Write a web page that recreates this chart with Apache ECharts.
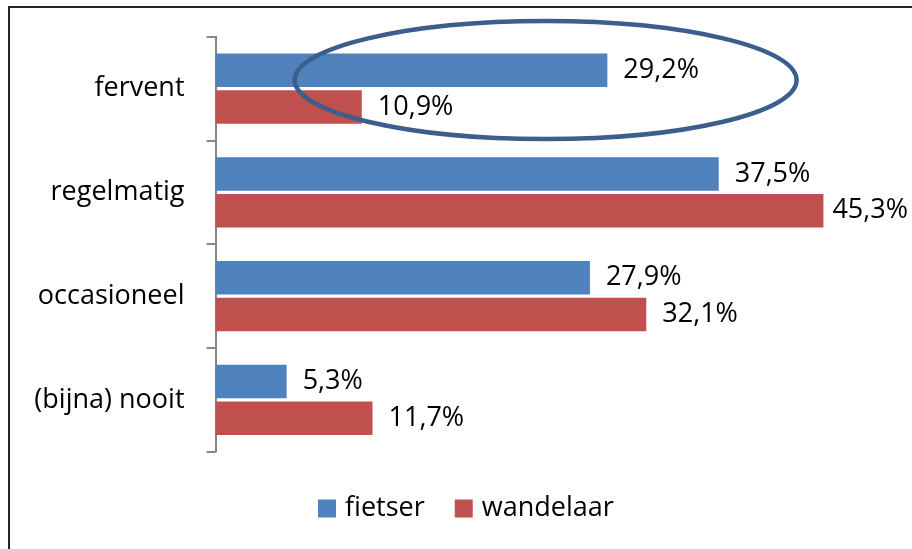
<!DOCTYPE html>
<html>
<head>
<meta charset="utf-8">
<script src="https://cdn.jsdelivr.net/npm/echarts@6/dist/echarts.min.js"></script>
<style>
html,body{margin:0;padding:0;background:#fff;}
#chart{width:912px;height:549px;}
</style>
</head>
<body>
<div id="chart"></div>
<script>
var categories = ['fervent','regelmatig','occasioneel','(bijna) nooit']
var seriesNames = ['fietser','wandelaar']
var fietser = [29.2,37.5,27.9,5.3]
var wandelaar = [10.9,45.3,32.1,11.7]

var chart = echarts.init(document.getElementById('chart'))
var font = '"Open Sans", sans-serif'
var fsize = 27

function pct(p){
    return String(p.value).replace('.',',') + '%'
}

// keep labels inside the frame, like the spreadsheet does
function keepInside(p){
    var r = p.labelRect
    if(r.x + r.width > 908){
        return {
            x:908 - r.width,
            y:r.y + r.height / 2,
            align:'left',
            verticalAlign:'middle'
        }
    }
}

function barSeries(name,data,color){
    return {
        name:name,
        type:'bar',
        data:data,
        barWidth:33.5,
        barGap:'10%',
        itemStyle:{
            color:color
        },
        label:{
            show:true,
            position:'right',
            distance:16,
            formatter:pct,
            fontFamily:font,
            fontSize:fsize,
            color:'#000'
        },
        labelLayout:keepInside
    }
}

chart.setOption({
    animation:false,
    textStyle:{fontFamily:font},
    grid:{
        left:215.5,
        top:36.7,
        width:671,
        height:415
    },
    legend:{
        data:seriesNames,
        left:318,
        top:495,
        padding:0,
        icon:'rect',
        itemWidth:18,
        itemHeight:18,
        itemGap:30,
        textStyle:{
            fontFamily:font,
            fontSize:fsize,
            color:'#000',
            padding:[0,0,0,4]
        }
    },
    xAxis:{
        type:'value',
        min:0,
        max:50,
        show:false
    },
    yAxis:{
        type:'category',
        data:categories,
        inverse:true,
        axisLine:{
            lineStyle:{color:'#868686',width:2}
        },
        axisTick:{
            show:true,
            length:9,
            lineStyle:{color:'#868686',width:2}
        },
        axisLabel:{
            margin:31,
            fontFamily:font,
            fontSize:fsize,
            color:'#000'
        }
    },
    series:[
        barSeries(seriesNames[0],fietser,'#4F81BD'),
        barSeries(seriesNames[1],wandelaar,'#C0504D')
    ]
})

// frame and the hand drawn ellipse round the first category
var left = chart.convertToPixel({xAxisIndex:0},5.9)
var right = chart.convertToPixel({xAxisIndex:0},43.3)
var mid = chart.convertToPixel({yAxisIndex:0},categories[0])
chart.setOption({
    graphic:[
        {
            type:'rect',
            shape:{x:9,y:7,width:940,height:580},
            style:{fill:null,stroke:'#262626',lineWidth:2},
            silent:true
        },
        {
            type:'ellipse',
            shape:{cx:(left+right)/2,cy:mid-8.5,rx:(right-left)/2,ry:59},
            style:{fill:null,stroke:'#3B5E8C',lineWidth:4.5},
            z:100
        }
    ]
})
</script>
</body>
</html>
